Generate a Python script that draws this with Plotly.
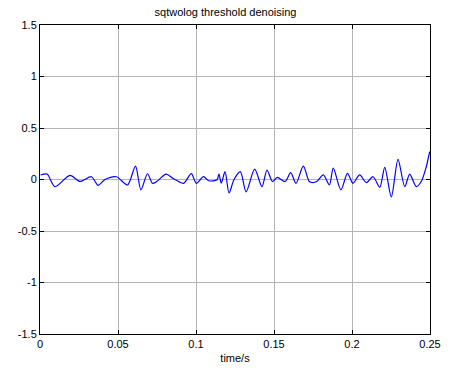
import plotly.graph_objects as go

title_text = "sqtwolog threshold denoising"
x_label = "time/s"

time_s = [0.0004, 0.0045, 0.0096, 0.0192, 0.0256, 0.0330, 0.0372, 0.0417, 0.0490,
          0.0561, 0.0612, 0.0647, 0.0689, 0.0721, 0.0748, 0.0808, 0.0854, 0.0920,
          0.0970, 0.1002, 0.1048, 0.1081, 0.1135, 0.1147, 0.1162, 0.1186, 0.1212,
          0.1244, 0.1284, 0.1321, 0.1376, 0.1423, 0.1455, 0.1490, 0.1521, 0.1571,
          0.1607, 0.1641, 0.1688, 0.1726, 0.1748, 0.1774, 0.1816, 0.1855, 0.1880,
          0.1929, 0.1971, 0.2006, 0.2049, 0.2092, 0.2135, 0.2178, 0.2210, 0.2252,
          0.2295, 0.2338, 0.2370, 0.2412, 0.2444, 0.2476, 0.2498]
signal = [0.044, 0.053, -0.07, 0.04, -0.019, 0.027, -0.057, 0.0, 0.027,
          -0.053, 0.13, -0.10, 0.056, -0.037, -0.02, 0.052, 0.01, -0.037,
          0.057, -0.037, 0.027, -0.012, -0.003, 0.053, -0.035, 0.076, -0.13,
          0.0, 0.076, -0.12, 0.10, -0.07, 0.092, -0.02, 0.02, -0.02,
          0.066, -0.037, 0.13, -0.02, -0.03, -0.02, 0.044, -0.053, 0.11,
          -0.10, 0.06, -0.037, 0.044, -0.03, 0.027, -0.076, 0.118, -0.17,
          0.196, -0.07, 0.053, -0.07, -0.02, 0.124, 0.27]

x_ticks = [0, 0.05, 0.1, 0.15, 0.2, 0.25]
x_ticktext = ["0", "0.05", "0.1", "0.15", "0.2", "0.25"]
y_ticks = [-1.5, -1, -0.5, 0, 0.5, 1, 1.5]
y_ticktext = ["-1.5", "-1", "-0.5", "0", "0.5", "1", "1.5"]

fig = go.Figure()
fig.add_trace(go.Scatter(x=time_s, y=signal, mode="lines",
                         line=dict(color="#0000ff", width=1.2, shape="spline", smoothing=0.8),
                         showlegend=False))

font = dict(family="Liberation Sans, Arial, sans-serif", size=11, color="black")
axis_common = dict(showline=True, linecolor="black", linewidth=1, mirror="allticks",
                   ticks="inside", ticklen=4, tickcolor="black",
                   showgrid=True, gridcolor="#b4b4b4", gridwidth=1,
                   zeroline=False, tickfont=font, automargin=False)

fig.update_layout(
    width=451, height=371,
    margin=dict(l=40, r=21, t=25, b=37),
    paper_bgcolor="white", plot_bgcolor="white",
    font=font,
    title=dict(text=title_text, x=0.5, xanchor="center", y=1 - 12/371, yanchor="middle",
               font=dict(family="Liberation Sans, Arial, sans-serif", size=11, color="black")),
    xaxis=dict(range=[0, 0.25], tickvals=x_ticks, ticktext=x_ticktext,
               title=dict(text=x_label, standoff=5, font=font), **axis_common),
    yaxis=dict(range=[-1.5, 1.5], tickvals=y_ticks, ticktext=y_ticktext, **axis_common),
)

fig.write_html("out.html")
